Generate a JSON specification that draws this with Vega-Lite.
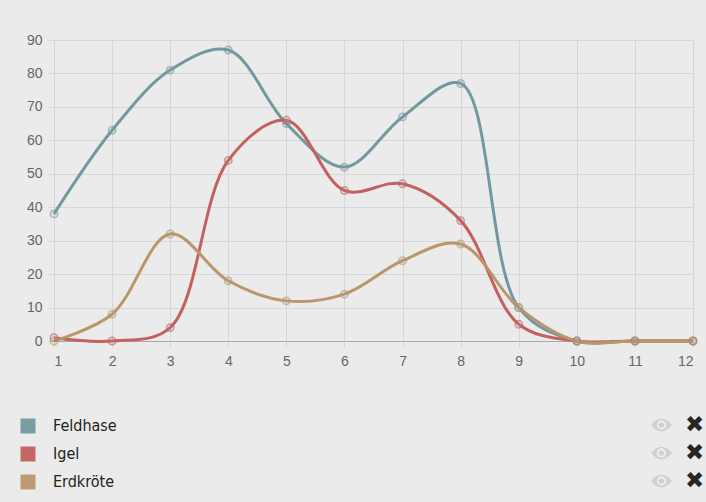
{
  "$schema": "https://vega.github.io/schema/vega-lite/v6.json",
  "autosize": {"type": "none"},
  "padding": {"left": 54, "top": 40, "right": 13, "bottom": 161},
  "width": 639,
  "height": 301,
  "background": "#ebebeb",
  "config": {
    "view": {"stroke": null},
    "axis": {"labelFont": "Liberation Sans", "labelColor": "#666666", "labelFontSize": 14}
  },
  "layer": [
    {
      "data": {
        "values": [
          {"month": 1, "series": "Feldhase", "value": 38},
          {"month": 2, "series": "Feldhase", "value": 63},
          {"month": 3, "series": "Feldhase", "value": 81},
          {"month": 4, "series": "Feldhase", "value": 87},
          {"month": 5, "series": "Feldhase", "value": 65},
          {"month": 6, "series": "Feldhase", "value": 52},
          {"month": 7, "series": "Feldhase", "value": 67},
          {"month": 8, "series": "Feldhase", "value": 77},
          {"month": 9, "series": "Feldhase", "value": 10},
          {"month": 10, "series": "Feldhase", "value": 0},
          {"month": 11, "series": "Feldhase", "value": 0},
          {"month": 12, "series": "Feldhase", "value": 0},
          {"month": 1, "series": "Igel", "value": 1},
          {"month": 2, "series": "Igel", "value": 0},
          {"month": 3, "series": "Igel", "value": 4},
          {"month": 4, "series": "Igel", "value": 54},
          {"month": 5, "series": "Igel", "value": 66},
          {"month": 6, "series": "Igel", "value": 45},
          {"month": 7, "series": "Igel", "value": 47},
          {"month": 8, "series": "Igel", "value": 36},
          {"month": 9, "series": "Igel", "value": 5},
          {"month": 10, "series": "Igel", "value": 0},
          {"month": 11, "series": "Igel", "value": 0},
          {"month": 12, "series": "Igel", "value": 0},
          {"month": 1, "series": "Erdkröte", "value": 0},
          {"month": 2, "series": "Erdkröte", "value": 8},
          {"month": 3, "series": "Erdkröte", "value": 32},
          {"month": 4, "series": "Erdkröte", "value": 18},
          {"month": 5, "series": "Erdkröte", "value": 12},
          {"month": 6, "series": "Erdkröte", "value": 14},
          {"month": 7, "series": "Erdkröte", "value": 24},
          {"month": 8, "series": "Erdkröte", "value": 29},
          {"month": 9, "series": "Erdkröte", "value": 10},
          {"month": 10, "series": "Erdkröte", "value": 0},
          {"month": 11, "series": "Erdkröte", "value": 0},
          {"month": 12, "series": "Erdkröte", "value": 0}
        ]
      },
      "encoding": {
        "x": {
          "field": "month",
          "type": "quantitative",
          "scale": {"domain": [1, 12], "nice": false, "zero": false},
          "axis": {
            "title": null,
            "values": [1, 2, 3, 4, 5, 6, 7, 8, 9, 10, 11, 12],
            "grid": true,
            "gridColor": "#d6d6d6",
            "domain": false,
            "tickColor": "#d6d6d6",
            "tickSize": 6,
            "labelPadding": 7
          }
        },
        "y": {
          "field": "value",
          "type": "quantitative",
          "scale": {"domain": [0, 90], "nice": false},
          "axis": {
            "title": null,
            "values": [0, 10, 20, 30, 40, 50, 60, 70, 80, 90],
            "grid": true,
            "gridColor": {"condition": {"test": "datum.value === 0", "value": "#a8a8a8"}, "value": "#d6d6d6"},
            "domain": false,
            "tickColor": "#d6d6d6",
            "tickSize": 6,
            "labelPadding": 6
          }
        },
        "color": {
          "field": "series",
          "type": "nominal",
          "scale": {
            "domain": ["Feldhase", "Igel", "Erdkröte"],
            "range": ["#72999f", "#c2615f", "#b9976a"]
          },
          "legend": {
            "title": null,
            "orient": "none",
            "legendX": -34,
            "legendY": 378,
            "padding": 0,
            "symbolType": "square",
            "symbolSize": 225,
            "symbolStrokeWidth": 0,
            "symbolOpacity": 1,
            "rowPadding": 12,
            "labelOffset": 17,
            "labelFont": "Liberation Sans Narrow, DejaVu Sans Condensed, sans-serif",
            "labelFontSize": 16,
            "labelColor": "#222222",
            "encode": {
              "symbols": {
                "update": {
                  "fill": {"scale": "color", "field": "value"},
                  "fillOpacity": {"value": 0.95},
                  "strokeWidth": {"value": 0}
                }
              }
            }
          }
        }
      },
      "layer": [
        {
          "mark": {"type": "line", "interpolate": "catmull-rom", "strokeWidth": 3}
        },
        {
          "mark": {
            "type": "point",
            "shape": "circle",
            "size": 55,
            "filled": false,
            "strokeWidth": 1.5,
            "strokeOpacity": 0.6,
            "fill": "#999999",
            "fillOpacity": 0.15
          }
        }
      ]
    },
    {
      "data": {
        "values": [
          {"entry": "Feldhase"},
          {"entry": "Igel"},
          {"entry": "Erdkröte"}
        ]
      },
      "mark": {"type": "point", "filled": true, "color": "#d0d0d0", "opacity": 0},
      "encoding": {
        "shape": {
          "field": "entry",
          "type": "nominal",
          "scale": {
            "range": [
              "M -1 0 Q 0 -1.2 1 0 Q 0 1.2 -1 0 Z M 0.45 0 A 0.45 0.45 0 1 0 -0.45 0 A 0.45 0.45 0 1 0 0.45 0 Z M 0.25 0 A 0.25 0.25 0 1 1 -0.25 0 A 0.25 0.25 0 1 1 0.25 0 Z"
            ]
          },
          "legend": {
            "title": null,
            "orient": "none",
            "legendX": 596,
            "legendY": 373.5,
            "padding": 0,
            "symbolSize": 440,
            "symbolFillColor": "#d0d0d0",
            "symbolStrokeWidth": 0,
            "symbolOpacity": 1,
            "rowPadding": 4,
            "labelOffset": 12,
            "labelExpr": "'✖'",
            "labelFont": "DejaVu Sans",
            "labelFontSize": 23,
            "labelFontWeight": "bold",
            "labelColor": "#262626"
          }
        }
      }
    }
  ]
}
